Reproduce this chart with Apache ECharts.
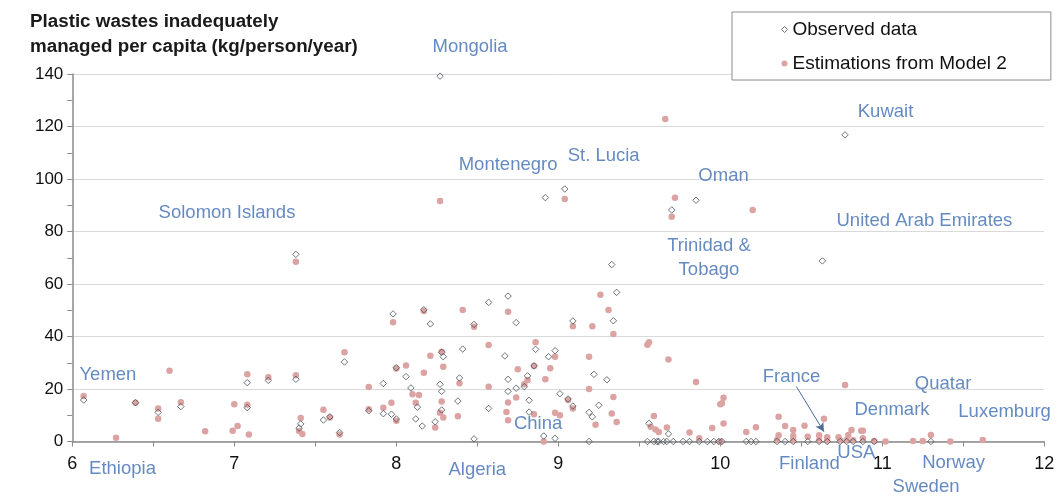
<!DOCTYPE html>
<html>
<head>
<meta charset="utf-8">
<script src="https://cdn.jsdelivr.net/npm/echarts@6/dist/echarts.min.js"></script>
<style>html,body{margin:0;padding:0;background:#fff;}#chart{width:1063px;height:498px;}</style>
</head>
<body>
<div id="chart"></div>
<script>
var xTicks = [6, 7, 8, 9, 10, 11, 12];
var yTicks = [0, 20, 40, 60, 80, 100, 120, 140];

var observedData = [
  [6.07,15.8],[6.39,14.8],[6.53,11.1],[6.67,13.3],[7.08,22.4],[7.08,12.9],[7.21,23.3],[7.38,23.7],[7.38,71.3],
  [7.41,6.7],[7.40,5.1],[7.55,8.2],[7.59,9.4],[7.65,3.4],[7.68,30.3],[7.83,11.7],[7.92,22.1],[7.92,10.6],
  [7.97,10.4],[7.98,48.6],[8.00,28.1],[8.00,8.6],[8.06,24.7],[8.09,20.4],[8.13,13.1],[8.12,8.6],[8.16,5.9],
  [8.17,50.2],[8.21,44.8],[8.24,7.5],[8.27,21.8],[8.28,34.0],[8.29,32.3],[8.28,19.1],[8.28,12.0],[8.27,139.2],
  [8.41,35.2],[8.39,24.2],[8.38,15.4],[8.48,44.6],[8.48,1.0],[8.57,53.0],[8.57,12.6],[8.67,32.6],[8.69,55.4],
  [8.69,23.7],[8.69,19.1],[8.74,45.3],[8.74,20.3],[8.79,20.9],[8.81,25.0],[8.82,15.7],[8.82,11.2],[8.86,35.1],
  [8.85,28.8],[8.91,2.1],[8.92,92.9],[8.94,32.3],[8.98,34.6],[8.98,1.2],[9.01,18.2],[9.04,96.2],[9.06,16.2],
  [9.09,13.5],[9.09,45.9],[9.19,11.1],[9.21,9.4],[9.19,0],[9.22,25.6],[9.25,13.8],[9.30,23.5],[9.33,67.4],
  [9.34,46.0],[9.36,56.8],[9.56,6.9],[9.68,2.9],[9.70,88.2],[9.85,91.9],[10.63,68.8],[10.77,116.8],
  [9.55,0],[9.59,0],[9.61,0],[9.62,0],[9.65,0],[9.67,0],[9.71,0],[9.77,0],[9.81,0],[9.87,0],[9.92,0],
  [9.96,0],[9.99,0],[10.01,0],[10.16,0],[10.19,0],[10.22,0],[10.35,0],[10.40,0],[10.45,0],[10.54,0],
  [10.61,0],[10.66,0],[10.74,0],[10.78,0],[10.82,0],[10.88,0],[10.95,0],[11.30,0]
];

var estimatedData = [
  [6.07,17.3],[6.27,1.4],[6.39,14.8],[6.60,27.0],[6.53,12.6],[6.53,8.7],[6.67,15.0],[6.82,3.9],[6.99,4.1],
  [7.00,14.2],[7.02,5.9],[7.08,25.6],[7.08,14.0],[7.09,2.7],[7.21,24.5],[7.38,25.2],[7.38,68.5],[7.41,9.0],
  [7.40,4.0],[7.42,2.9],[7.55,12.1],[7.59,9.1],[7.65,2.7],[7.68,34.0],[7.83,20.8],[7.83,12.3],[7.92,12.9],
  [7.97,14.8],[7.98,45.4],[8.00,27.8],[8.00,7.9],[8.06,29.0],[8.10,18.0],[8.14,17.7],[8.12,14.8],[8.17,26.2],
  [8.17,49.7],[8.21,32.7],[8.27,91.6],[8.28,34.2],[8.29,28.5],[8.28,15.2],[8.27,11.0],[8.29,9.1],[8.24,5.3],
  [8.41,50.1],[8.39,22.2],[8.38,9.6],[8.48,43.7],[8.57,36.8],[8.57,20.9],[8.69,49.4],[8.75,27.5],[8.74,16.8],
  [8.69,14.9],[8.68,11.2],[8.69,8.1],[8.79,21.8],[8.81,23.4],[8.85,10.4],[8.86,37.8],[8.85,28.8],[8.92,23.7],
  [8.91,0],[8.95,27.9],[8.98,32.3],[8.98,11.0],[9.01,10.0],[9.04,92.4],[9.06,15.8],[9.09,12.6],[9.09,43.9],
  [9.19,32.3],[9.19,20.0],[9.21,43.9],[9.23,6.4],[9.26,55.9],[9.31,50.1],[9.34,41.0],[9.34,17.0],[9.33,10.7],
  [9.36,7.4],[9.55,36.9],[9.56,37.8],[9.59,9.7],[9.57,5.6],[9.60,4.6],[9.62,3.6],[9.67,5.3],[9.66,122.9],
  [9.68,31.2],[9.72,92.9],[9.70,85.6],[9.81,3.4],[9.85,22.7],[9.87,1.2],[9.95,5.1],[10.00,14.2],[10.01,14.6],
  [10.02,16.7],[10.02,6.9],[10.00,0],[10.16,3.6],[10.20,88.2],[10.22,5.4],[10.36,9.4],[10.36,2.4],[10.40,5.9],
  [10.45,4.4],[10.45,2.1],[10.52,6.0],[10.54,1.8],[10.61,2.4],[10.64,8.7],[10.66,1.6],[10.73,1.6],[10.77,21.5],
  [10.79,2.5],[10.81,4.4],[10.87,4.1],[10.88,4.1],[10.88,1.2],[10.95,0.2],[11.02,0],[11.19,0.2],[11.25,0.2],
  [11.30,2.5],[11.42,0],[11.62,0.6],[10.35,0.6],[10.45,0.5],[10.61,0.5],[10.66,0.4],[10.74,0.5],[10.78,0.6],[10.82,0.5]
];

var countryNames = ['Mongolia','Solomon Islands','Montenegro','St. Lucia','Oman','Kuwait','United Arab Emirates',
  'Trinidad &\nTobago','Yemen','France','Quatar','Denmark','Luxemburg','China','Ethiopia','Algeria','Finland','USA','Norway','Sweden'];
var countryX = [8.455, 6.955, 8.69, 9.28, 10.02, 11.02, 11.26, 9.93, 6.22, 10.44, 11.375, 11.06, 11.755, 8.875, 6.31, 8.50, 10.55, 10.84, 11.44, 11.27];
var countryY = [150.3, 87.0, 105.3, 108.8, 101.1, 125.5, 84.0, 69.9, 25.3, 24.6, 21.9, 12.0, 11.2, 6.7, -10.5, -10.9, -8.6, -4.4, -8.2, -17.3];

var franceArrow = [[10.47, 20.9], [10.64, 3.7]];

var FONT = '"Liberation Sans", Arial, sans-serif';
var labelData = countryNames.map(function (n, i) { return [countryX[i], countryY[i], n]; });

var chart = echarts.init(document.getElementById('chart'), null, {renderer: 'canvas'});
chart.setOption({
  animation: false,
  backgroundColor: '#ffffff',
  textStyle: {fontFamily: FONT},
  title: {
    text: 'Plastic wastes inadequately\nmanaged per capita (kg/person/year)',
    left: 25, top: 4,
    textStyle: {fontFamily: FONT, fontSize: 18.8, fontWeight: 'bold', color: '#1a1a1a', lineHeight: 25}
  },
  legend: {
    left: 732, top: 12,
    orient: 'vertical',
    backgroundColor: '#ffffff',
    borderColor: '#8c8c8c', borderWidth: 1,
    padding: [7, 44, 6, 49],
    itemWidth: 6, itemHeight: 6, itemGap: 13,
    data: [
      {name: 'Observed data', icon: 'diamond', itemStyle: {color: '#ffffff', borderColor: '#4b525a', borderWidth: 1}},
      {name: 'Estimations from Model 2', icon: 'circle', itemStyle: {color: '#dca3a3', borderColor: '#dca3a3'}}
    ],
    textStyle: {fontFamily: FONT, fontSize: 19, color: '#111', lineHeight: 21}
  },
  grid: {left: 72.3, right: 18.7, top: 74, bottom: 56.5, containLabel: false},
  xAxis: {
    type: 'value', min: xTicks[0], max: xTicks[xTicks.length - 1], interval: 1,
    axisLine: {show: true, onZero: false, lineStyle: {color: '#8a8a8a', width: 1.5}},
    axisTick: {show: true, length: 5, lineStyle: {color: '#8a8a8a'}},
    minorTick: {show: true, splitNumber: 2, length: 5, lineStyle: {color: '#8a8a8a'}},
    splitLine: {show: false},
    axisLabel: {fontFamily: FONT, fontSize: 18, color: '#111', margin: 14}
  },
  yAxis: {
    type: 'value', min: yTicks[0], max: yTicks[yTicks.length - 1], interval: 20,
    axisLine: {show: true, lineStyle: {color: '#8a8a8a', width: 1.5}},
    axisTick: {show: true, length: 5, lineStyle: {color: '#8a8a8a'}},
    minorTick: {show: true, splitNumber: 2, length: 5, lineStyle: {color: '#8a8a8a'}},
    splitLine: {show: true, lineStyle: {color: '#d9d9d9', width: 1}},
    axisLabel: {fontFamily: FONT, fontSize: 17, color: '#111', margin: 9}
  },
  series: [
    {
      name: 'Estimations from Model 2', type: 'scatter', symbol: 'circle', symbolSize: 6.5,
      itemStyle: {color: '#dca3a3', opacity: 1},
      data: estimatedData, z: 2
    },
    {
      name: 'Observed data', type: 'scatter', symbol: 'diamond', symbolSize: 6.5,
      itemStyle: {color: 'rgba(255,255,255,0)', borderColor: '#4b525a', borderWidth: 1},
      data: observedData, z: 3
    },
    {
      name: 'labels', type: 'scatter', symbolSize: 0, clip: false, silent: true, z: 5,
      data: labelData,
      label: {
        show: true, position: 'inside', color: '#3f6db3', fontFamily: FONT, fontSize: 18.5, lineHeight: 24, align: 'center',
        formatter: function (p) { return p.data[2]; }
      },
      markLine: {
        silent: true, symbol: ['none', 'arrow'], symbolSize: [7, 9],
        lineStyle: {color: '#4a6d9c', width: 1, type: 'solid'},
        label: {show: false},
        data: [[{coord: franceArrow[0]}, {coord: franceArrow[1]}]]
      }
    }
  ]
});
</script>
</body>
</html>
